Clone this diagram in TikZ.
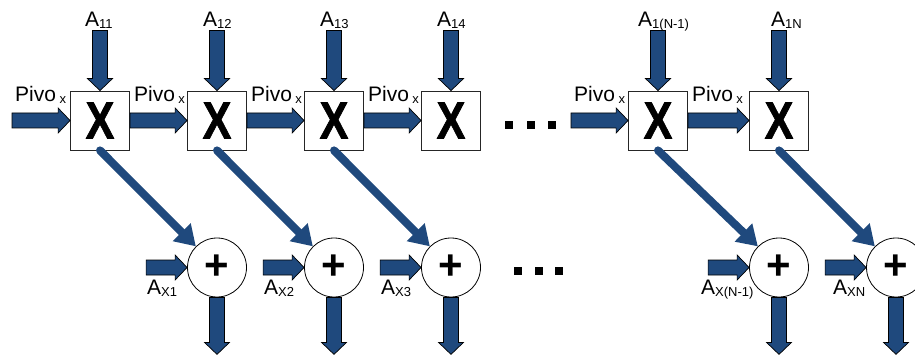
\documentclass[tikz,border=0pt]{standalone}
\usepackage{fontspec}
\setmainfont{Liberation Sans}
\newfontfamily\heavyfont{Liberation Sans}[BoldFeatures={FakeBold=1.6}]
\usetikzlibrary{calc,arrows.meta}
\definecolor{arrowblue}{RGB}{31,73,125}
\newcommand{\lowidx}[1]{\raisebox{-2pt}{\fontsize{13}{13}\selectfont #1}}
\tikzset{
  mult/.style={draw=black!85,line width=0.8pt,fill=white,minimum size=59pt,inner sep=0pt,
    font=\heavyfont\fontsize{52}{52}\selectfont\bfseries},
  adder/.style={circle,draw=black,line width=0.8pt,fill=white,minimum size=59pt,inner sep=0pt,
    font=\fontsize{42}{42}\selectfont\bfseries},
  lbl/.style={inner sep=0pt,font=\fontsize{21}{21}\selectfont},
  fat/.style={draw=black,fill=arrowblue,line width=0.7pt,line join=miter,
    to path={let \p1=($(\tikztotarget)-(\tikztostart)$), \n1={atan2(\y1,\x1)},
      \n2={veclen(\x1,\y1)-12} in
      ($(\tikztostart)+(\n1+90:7.5)$) -- ($(\tikztostart)+(\n1:\n2)+(\n1+90:7.5)$)
      -- ($(\tikztostart)+(\n1:\n2)+(\n1+90:12.5)$) -- (\tikztotarget)
      -- ($(\tikztostart)+(\n1:\n2)+(\n1-90:12.5)$) -- ($(\tikztostart)+(\n1:\n2)+(\n1-90:7.5)$)
      -- ($(\tikztostart)+(\n1-90:7.5)$) -- cycle}},
  diag/.style={draw=arrowblue,line width=8pt,line cap=round,-{Triangle[width=24pt,length=20pt]}}
}
\begin{document}
\begin{tikzpicture}[x=1pt,y=1pt]
\useasboundingbox (0,0) rectangle (915,359);
% multipliers and adders
\foreach \i/\x in {1/100,2/217,3/334,4/451,5/658,6/779}
  \node[mult] (m\i) at (\x,238.5) {\scalebox{.82}[1]{X}};
\foreach \i/\x in {1/217,2/334,3/451,5/779,6/896}
  \node[adder] (s\i) at (\x,91.5) {+};
% coefficients from above
\foreach \i/\x/\s in {1/85/11,2/203/12,3/320/13,4/437/14,5/638/{1(N-1)},6/771/1N} {
  \node[lbl,anchor=base west] (a\i) at (\x,332) {A\lowidx{\s}};
  \coordinate (t\i) at ([yshift=60pt]m\i.north);
  \draw[fat] (t\i) to (m\i.north);
}
% pivot chain
\foreach \i/\x in {1/12,5/571} {
  \coordinate (in\i) at (\x,238.5);
  \draw[fat] (in\i) to (m\i.west);
  \node[lbl,anchor=base west] (p\i) at ([xshift=3pt,yshift=18.5pt]in\i) {Pivo\,\lowidx{x}};
}
\foreach \i/\j in {1/2,2/3,3/4,5/6} {
  \draw[fat] (m\i.east) to (m\j.west);
  \node[lbl,anchor=base west] (q\i) at ([xshift=4pt,yshift=18.5pt]m\i.east) {Pivo\,\lowidx{x}};
}
% products into adders
\foreach \i in {1,2,3,5,6}
  \draw[diag] (m\i.south) -- (s\i.135);
% row inputs and outputs
\foreach \i/\lx/\s in {1/147/X1,2/264/X2,3/381/X3,5/701/{X(N-1)},6/833/XN} {
  \coordinate (c\i) at ([xshift=-41pt]s\i.west);
  \draw[fat] (c\i) to (s\i.west);
  \node[lbl,anchor=base west] (b\i) at (\lx,65) {A\lowidx{\s}};
  \coordinate (o\i) at ([yshift=-57pt]s\i.south);
  \draw[fat] (s\i.south) to (o\i);
}
% dots
\foreach \x in {509,531,552}
  \fill (\x-3.75,230.25) rectangle ++(7.5,7.5);
\foreach \x in {518,539,559}
  \fill (\x-4,84) rectangle ++(8,8);
\end{tikzpicture}
\end{document}
